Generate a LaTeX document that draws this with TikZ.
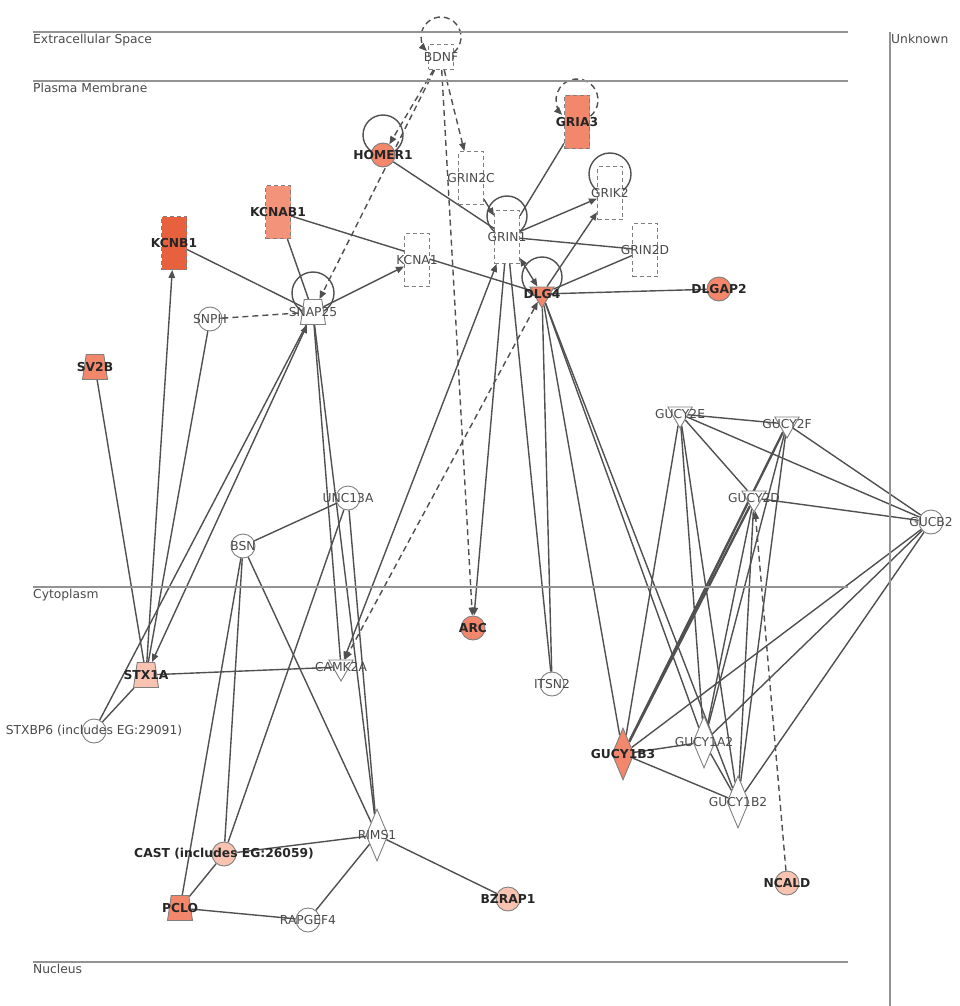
\documentclass[tikz,border=0pt]{standalone}
\usepackage{fontspec}
\setmainfont{DejaVu Sans}
\usepackage{tikz}
\usetikzlibrary{shapes.geometric,arrows.meta,backgrounds}
\definecolor{edgegray}{HTML}{505050}
\definecolor{rimgray}{HTML}{7F7F7F}
\definecolor{txtgray}{HTML}{4A4A4A}
\definecolor{upA}{HTML}{E8613F}
\definecolor{upB}{HTML}{F3937A}
\definecolor{upC}{HTML}{F2876B}
\definecolor{upD}{HTML}{F9C3B1}
\newcommand{\lblfont}{\fontsize{12.3}{14}\selectfont}

\begin{document}
\begin{tikzpicture}[x=1pt, y=-1pt,
  gene/.style={draw=rimgray, line width=0.9pt, fill=white, inner sep=0pt},
  circ/.style={gene, circle, minimum size=24pt},
  chan/.style={gene, rectangle, dash pattern=on 4pt off 3pt, minimum width=25pt, minimum height=53pt},
  growth/.style={chan, minimum height=25pt},
  kinase/.style={gene, regular polygon, regular polygon sides=3, shape border rotate=180, minimum size=28pt},
  enzyme/.style={gene, diamond, minimum width=22pt, minimum height=52pt},
  transp/.style={gene, trapezium, inner sep=1pt, trapezium left angle=78, trapezium right angle=78, trapezium stretches=true, minimum width=25pt, minimum height=25pt},
  uplbl/.style={label={[font=\lblfont\bfseries, text=black!85]center:{#1}}},
  nolbl/.style={label={[font=\lblfont, text=txtgray]center:{#1}}},
  link/.style={draw=edgegray, line width=1.4pt},
  indirect/.style={link, dash pattern=on 6pt off 4pt},
  acts/.style={-{Triangle[length=8pt, width=6.5pt]}},
  mutual/.style={{Triangle[length=8pt, width=6.5pt]}-{Triangle[length=8pt, width=6.5pt]}},
  comp/.style={draw=gray!85, line width=1.4pt},
  complbl/.style={anchor=north west, inner sep=0pt, font=\lblfont, text=txtgray}
]
  \useasboundingbox (0,0) rectangle (959,1006);

  % Compartments
  \draw[comp] (33,32) -- (848,32);
  \node[complbl] (extra) at (33,34) {Extracellular Space};
  \draw[comp] (33,81) -- (848,81);
  \node[complbl] (plasma) at (33,83) {Plasma Membrane};
  \draw[comp] (33,587) -- (848,587);
  \node[complbl] (cyto) at (33,589) {Cytoplasm};
  \draw[comp] (33,962) -- (848,962);
  \node[complbl] (nucl) at (33,964) {Nucleus};
  \draw[comp] (890,32) -- (890,1006);
  \node[complbl] (unkn) at (891,34) {Unknown};

  % Extracellular space
  \node[growth, nolbl=BDNF] (bdnf) at (441,57) {};

  % Plasma membrane
  \node[chan, fill=upC, uplbl=GRIA3] (gria3) at (577,122) {};
  \node[circ, fill=upC, uplbl=HOMER1] (homer) at (383,155) {};
  \node[chan, nolbl=GRIN2C] (grin2c) at (471,178) {};
  \node[chan, nolbl=GRIN1] (grin1) at (507,237) {};
  \node[chan, nolbl=GRIK2] (grik2) at (610,193) {};
  \node[chan, nolbl=GRIN2D] (grin2d) at (645,250) {};
  \node[chan, nolbl=KCNA1] (kcna1) at (417,260) {};
  \node[chan, fill=upB, uplbl=KCNAB1] (kcnab1) at (278,212) {};
  \node[chan, fill=upA, uplbl=KCNB1] (kcnb1) at (174,243) {};
  \node[kinase, fill=upC, uplbl=DLG4] (dlg4) at (542,294) {};
  \node[circ, fill=upC, uplbl=DLGAP2] (dlgap2) at (719,289) {};
  \node[transp, nolbl=SNAP25] (snap25) at (313,312) {};
  \node[circ, nolbl=SNPH] (snph) at (210,319) {};
  \node[transp, fill=upC, uplbl=SV2B] (sv2b) at (95,367) {};
  \node[circ, nolbl=UNC13A] (unc13a) at (348,498) {};
  \node[circ, nolbl=BSN] (bsn) at (243,546) {};
  \node[kinase, nolbl=GUCY2E] (gucy2e) at (680,414) {};
  \node[kinase, nolbl=GUCY2F] (gucy2f) at (787,424) {};
  \node[kinase, nolbl=GUCY2D] (gucy2d) at (754,498) {};

  % Cytoplasm
  \node[circ, fill=upC, uplbl=ARC] (arc) at (473,628) {};
  \node[transp, fill=upD, uplbl=STX1A] (stx1a) at (146,675) {};
  \node[circ, nolbl={STXBP6 (includes EG:29091)}] (stxbp6) at (94,731) {};
  \node[kinase, nolbl=CAMK2A] (camk2a) at (341,667) {};
  \node[circ, nolbl=ITSN2] (itsn2) at (552,684) {};
  \node[enzyme, fill=upC, uplbl=GUCY1B3] (gucy1b3) at (623,754) {};
  \node[enzyme, nolbl=GUCY1A2] (gucy1a2) at (704,742) {};
  \node[enzyme, nolbl=GUCY1B2] (gucy1b2) at (738,802) {};
  \node[enzyme, nolbl=RIMS1] (rims1) at (377,835) {};
  \node[circ, fill=upD, uplbl=BZRAP1] (bzrap1) at (508,899) {};
  \node[circ, fill=upD, uplbl={CAST (includes EG:26059)}] (cast) at (224,854) {};
  \node[transp, fill=upC, uplbl=PCLO] (pclo) at (180,908) {};
  \node[circ, nolbl=RAPGEF4] (rapgef4) at (308,920) {};
  \node[circ, fill=upD, uplbl=NCALD] (ncald) at (787,883) {};

  % Unknown
  \node[circ, nolbl=GUCB2] (gucb2) at (931,522) {};

  \begin{scope}[on background layer]
    % Self loops
    \draw[link] ([yshift=20pt]homer.center) circle[radius=20pt];
    \draw[link] ([yshift=21pt]grin1.center) circle[radius=20pt];
    \draw[link] ([yshift=19pt]grik2.center) circle[radius=21pt];
    \draw[link] ([yshift=17pt]dlg4.center) circle[radius=20pt];
    \draw[link] ([yshift=19pt]snap25.center) circle[radius=21pt];
    \draw[indirect, acts] ([yshift=20pt]bdnf.center) ++(-50:20pt) arc[start angle=-50, end angle=225, radius=20pt];
    \draw[indirect, acts] ([yshift=22pt]gria3.center) ++(-50:21pt) arc[start angle=-50, end angle=225, radius=21pt];

    % Indirect relations
    \draw[indirect, acts] (bdnf) -- (homer);
    \draw[indirect, acts] (bdnf) -- (snap25);
    \draw[indirect, acts] (bdnf) -- (grin2c);
    \draw[indirect, acts] (bdnf) -- (arc);
    \draw[indirect] (snph) -- (snap25);
    \draw[indirect, mutual] (dlg4) -- (camk2a);
    \draw[indirect, acts] (ncald) -- (gucy2d);

    % Glutamate receptor cluster
    \draw[link] (homer) -- (grin1);
    \draw[link, acts] (grin2c) -- (grin1);
    \draw[link] (grin1) -- (gria3);
    \draw[link, acts] (grin1) -- (grik2);
    \draw[link] (grin1) -- (grin2d);
    \draw[link, mutual] (grin1) -- (dlg4);
    \draw[link, acts] (dlg4) -- (grik2);
    \draw[link] (dlg4) -- (grin2d);
    \draw[link] (dlg4) -- (dlgap2);
    \draw[link] (kcnab1) -- (dlg4);
    \draw[link, mutual] (camk2a) -- (grin1);
    \draw[link, acts] (grin1) -- (arc);
    \draw[link] (grin1) -- (itsn2);
    \draw[link] (dlg4) -- (itsn2);
    \draw[link] (dlg4) -- (gucy1b3);
    \draw[link] (dlg4) -- (gucy1a2);
    \draw[link] (dlg4) -- (gucy1b2);

    % SNARE cluster
    \draw[link, acts] (snap25) -- (kcna1);
    \draw[link] (kcnb1) -- (snap25);
    \draw[link] (kcnab1) -- (snap25);
    \draw[link, acts] (stx1a) -- (kcnb1);
    \draw[link] (snph) -- (stx1a);
    \draw[link] (sv2b) -- (stx1a);
    \draw[link, mutual] (snap25) -- (stx1a);
    \draw[link] (snap25) -- (stxbp6);
    \draw[link] (stxbp6) -- (stx1a);
    \draw[link] (stx1a) -- (camk2a);
    \draw[link] (snap25) -- (camk2a);
    \draw[link] (snap25) -- (rims1);

    % Active zone cluster
    \draw[link] (unc13a) -- (rims1);
    \draw[link] (unc13a) -- (cast);
    \draw[link] (bsn) -- (unc13a);
    \draw[link] (bsn) -- (cast);
    \draw[link] (bsn) -- (pclo);
    \draw[link] (bsn) -- (rims1);
    \draw[link] (cast) -- (rims1);
    \draw[link] (cast) -- (pclo);
    \draw[link] (pclo) -- (rapgef4);
    \draw[link] (rapgef4) -- (rims1);
    \draw[link] (rims1) -- (bzrap1);

    % Guanylate cyclase cluster
    \draw[link] (gucy2e) -- (gucy2f);
    \draw[link] (gucy2e) -- (gucb2);
    \draw[link] (gucy2e) -- (gucy2d);
    \draw[link] (gucy2e) -- (gucy1b3);
    \draw[link] (gucy2e) -- (gucy1a2);
    \draw[link] (gucy2e) -- (gucy1b2);
    \draw[link] (gucy2f) -- (gucb2);
    \draw[link, line width=2.3pt] (gucy2f) -- (gucy1b3);
    \draw[link] (gucy2f) -- (gucy1a2);
    \draw[link] (gucy2f) -- (gucy1b2);
    \draw[link] (gucy2d) -- (gucb2);
    \draw[link, line width=2.3pt] (gucy2d) -- (gucy1b3);
    \draw[link] (gucy2d) -- (gucy1a2);
    \draw[link] (gucy2d) -- (gucy1b2);
    \draw[link] (gucb2) -- (gucy1b3);
    \draw[link] (gucb2) -- (gucy1a2);
    \draw[link] (gucb2) -- (gucy1b2);
    \draw[link] (gucy1b3) -- (gucy1a2);
    \draw[link] (gucy1b3) -- (gucy1b2);
    \draw[link] (gucy1a2) -- (gucy1b2);
  \end{scope}
\end{tikzpicture}
\end{document}
